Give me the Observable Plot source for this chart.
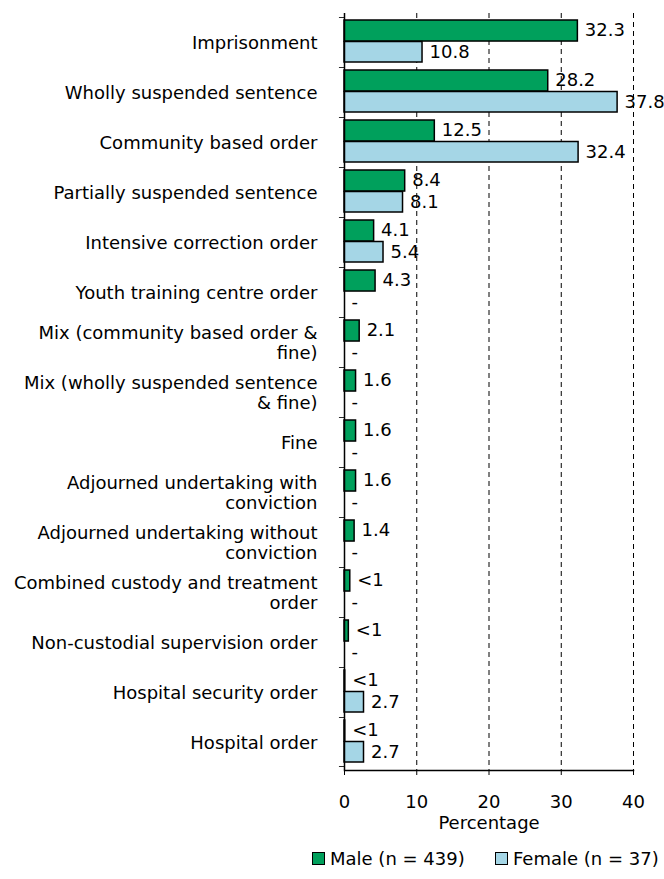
<!DOCTYPE html>
<html><head><meta charset="utf-8">
<script src="https://cdn.jsdelivr.net/npm/d3@7"></script>
<script src="https://cdn.jsdelivr.net/npm/@observablehq/plot@0.6"></script>
<style>
body{margin:0;background:#fff;font-family:"DejaVu Sans",sans-serif;color:#000;}
#wrap{position:relative;width:664px;height:879px;}
.leg{position:absolute;top:848px;font-size:18px;line-height:21px;display:flex;align-items:center;white-space:nowrap;}
.sw{width:11px;height:11px;border:1px solid #000;margin-right:5px;}
</style></head><body><div id="wrap"></div>
<script>
const categories = [
  "Imprisonment",
  "Wholly suspended sentence",
  "Community based order",
  "Partially suspended sentence",
  "Intensive correction order",
  "Youth training centre order",
  "Mix (community based order &\nfine)",
  "Mix (wholly suspended sentence\n& fine)",
  "Fine",
  "Adjourned undertaking with\nconviction",
  "Adjourned undertaking without\nconviction",
  "Combined custody and treatment\norder",
  "Non-custodial supervision order",
  "Hospital security order",
  "Hospital order"
];
const maleValues   = [32.3, 28.2, 12.5, 8.4, 4.1, 4.3, 2.1, 1.6, 1.6, 1.6, 1.4, 0.8, 0.6, 0.1, 0.1];
const femaleValues = [10.8, 37.8, 32.4, 8.1, 5.4, 0, 0, 0, 0, 0, 0, 0, 0, 2.7, 2.7];
const maleLabels   = ["32.3","28.2","12.5","8.4","4.1","4.3","2.1","1.6","1.6","1.6","1.4","<1","<1","<1","<1"];
const femaleLabels = ["10.8","37.8","32.4","8.1","5.4","-","-","-","-","-","-","-","-","2.7","2.7"];
const xTicks = [0, 10, 20, 30, 40];
const seriesNames = ["Male (n = 439)", "Female (n = 37)"];
const seriesColors = ["#00a05c", "#a5d6e6"];
const axisTitle = "Percentage";

const male = categories.map((c, i) => ({category: c, value: maleValues[i], label: maleLabels[i]}));
const female = categories.map((c, i) => ({category: c, value: femaleValues[i], label: femaleLabels[i]}));

const W = 664, H = 845, mt = 13, mb = 75, ml = 344, mr = 31;
const bw = (H - mt - mb) / categories.length;

const chart = Plot.plot({
  width: W, height: H,
  marginTop: mt, marginBottom: mb, marginLeft: ml, marginRight: mr,
  style: {fontFamily: "DejaVu Sans", fontSize: "18px", color: "#000", background: "#fff"},
  x: {domain: [0, 40]},
  y: {domain: categories, padding: 0},
  marks: [
    Plot.ruleX(xTicks.slice(1), {stroke: "#000", strokeWidth: 1, strokeDasharray: "5,4"}),
    Plot.barX(male, {y: "category", x: "value", fill: seriesColors[0], stroke: "#000", strokeWidth: 1.5, insetTop: 3, insetBottom: bw - 24.5}),
    Plot.barX(female, {y: "category", x: "value", fill: seriesColors[1], stroke: "#000", strokeWidth: 1.5, insetTop: 24.5, insetBottom: 5}),
    Plot.text(male, {y: "category", x: "value", text: "label", textAnchor: "start", dx: 7, dy: -12, fill: "#000"}),
    Plot.text(female, {y: "category", x: "value", text: "label", textAnchor: "start", dx: 7, dy: 9.6, fill: "#000"}),
    Plot.barX(categories, {y: d => d, x1: -0.7, x2: 0, fill: "#000", insetBottom: bw - 1.3}),
    Plot.barX(categories.slice(-1), {y: d => d, x1: -0.7, x2: 0, fill: "#000", insetTop: bw - 1.3}),
    Plot.ruleX([0], {stroke: "#000", strokeWidth: 1.5}),
    Plot.frame({anchor: "bottom", stroke: "#000", strokeWidth: 1.5}),
    Plot.axisX({ticks: xTicks, tickSize: 5, tickPadding: 20, label: null, fontSize: 18}),
    Plot.axisY({tickSize: 0, tickPadding: 27, label: null, fontSize: 18, lineHeight: 1.12}),
    Plot.text([axisTitle], {text: d => d, frameAnchor: "bottom", dy: 58, fontSize: 18, fill: "#000"})
  ]
});

const wrap = document.getElementById("wrap");
wrap.appendChild(chart);
const legLefts = [312, 495];
seriesNames.forEach((name, i) => {
  const item = document.createElement("div");
  item.className = "leg";
  item.style.left = legLefts[i] + "px";
  const sw = document.createElement("span");
  sw.className = "sw";
  sw.style.background = seriesColors[i];
  const t = document.createElement("span");
  t.textContent = name;
  item.appendChild(sw);
  item.appendChild(t);
  wrap.appendChild(item);
});
</script></body></html>
